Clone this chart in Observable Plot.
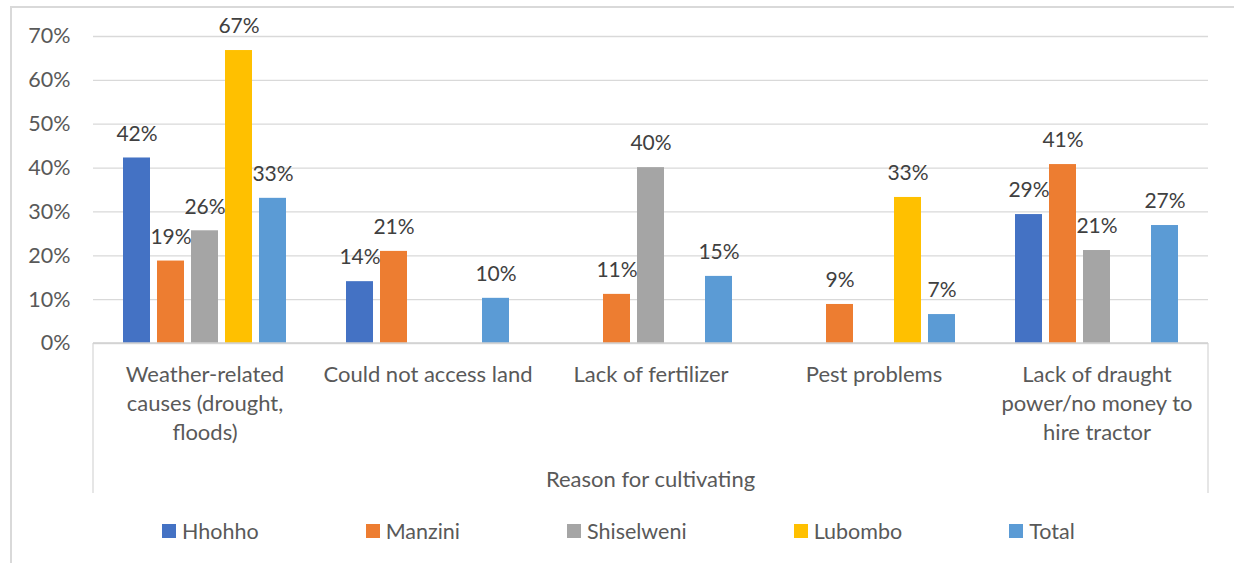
<!DOCTYPE html>
<html>
<head>
<meta charset="utf-8">
<script src="https://cdn.jsdelivr.net/npm/d3@7"></script>
<script src="https://cdn.jsdelivr.net/npm/@observablehq/plot@0.6"></script>
<style>
  html, body { margin: 0; padding: 0; background: #fff; }
  #wrap { position: relative; width: 1234px; height: 563px; overflow: hidden; font-family: Lato, sans-serif; color: #595959; }
  #frame { position: absolute; left: 10px; top: 6px; width: 1400px; height: 700px; border: 2px solid #d9d9d9; box-sizing: border-box; }
  #chart { position: absolute; left: 0; top: 0; }
  #xtitle { position: absolute; top: 465px; left: 91px; width: 1119px; text-align: center; font-size: 22px; line-height: 28px; }
  #legend { position: absolute; top: 517px; left: 162px; display: flex; gap: 107px; font-size: 21.5px; line-height: 28px; }
  #legend .item { display: flex; align-items: center; }
  #legend .sw { width: 14px; height: 14px; margin-right: 6px; }
</style>
</head>
<body>
<div id="wrap">
  <div id="frame"></div>
  <div id="chart"></div>
  <div id="xtitle">Reason for cultivating</div>
  <div id="legend"></div>
</div>
<script>
const categories = [
  "Weather-related causes (drought, floods)",
  "Could not access land",
  "Lack of fertilizer",
  "Pest problems",
  "Lack of draught power/no money to hire tractor"
];
const categoryLabels = [
  "Weather-related\ncauses (drought,\nfloods)",
  "Could not access land",
  "Lack of fertilizer",
  "Pest problems",
  "Lack of draught\npower/no money to\nhire tractor"
];
const series = ["Hhohho", "Manzini", "Shiselweni", "Lubombo", "Total"];
const colors = ["#4472C4", "#ED7D31", "#A5A5A5", "#FFC000", "#5B9BD5"];

// percent values per series, in category order (null = no bar)
const hhohho     = [42.3, 14.1, null, null, 29.4];
const manzini    = [18.8, 21.0, 11.2,  8.9, 40.8];
const shiselweni = [25.7, null, 40.1, null, 21.2];
const lubombo    = [66.8, null, null, 33.3, null];
const total      = [33.1, 10.3, 15.3,  6.6, 26.9];

const yTicks = [0, 10, 20, 30, 40, 50, 60, 70];

const seriesValues = [hhohho, manzini, shiselweni, lubombo, total];
const rows = [];
series.forEach((s, i) => seriesValues[i].forEach((v, j) => {
  if (v != null) rows.push({cat: categories[j], series: s, value: v});
}));

const plot = Plot.plot({
  width: 1234,
  height: 505,
  marginLeft: 91,
  marginRight: 24,
  marginTop: 36,
  marginBottom: 162,
  style: {fontFamily: "Lato, sans-serif", fontSize: "21.5px", color: "#595959", background: "transparent", overflow: "visible"},
  fx: {domain: categories, padding: 0, axis: null},
  x: {domain: series, paddingInner: 0.22, paddingOuter: 0.87, axis: null},
  y: {domain: [0, 70], ticks: yTicks, tickFormat: d => d + "%", label: null, tickSize: 0, tickPadding: 23},
  color: {domain: series, range: colors},
  marks: [
    Plot.ruleY(yTicks, {stroke: "#d9d9d9", strokeWidth: 1.3}),
    Plot.barY(rows, {fx: "cat", x: "series", y: "value", fill: "series"}),
    Plot.text(rows, {fx: "cat", x: "series", y: "value", text: d => Math.round(d.value) + "%", dy: -24, fill: "#404040", fontSize: 21}),
    Plot.text(categories, {fx: d => d, text: (d, i) => categoryLabels[i], frameAnchor: "bottom", lineAnchor: "top", dy: 18, lineHeight: 1.32, fill: "#595959", fontSize: 22})
  ]
});
document.getElementById("chart").appendChild(plot);

// category axis: baseline and outer edges, drawn from the library's scales
const fx = plot.scale("fx");
const y = plot.scale("y");
const svg = d3.select(plot);
const y0 = y.apply(0);
const left = fx.apply(categories[0]);
const right = fx.apply(categories[categories.length - 1]) + fx.bandwidth;
svg.append("g").selectAll("line").data([left, right]).join("line")
  .attr("x1", d => d).attr("x2", d => d)
  .attr("y1", y0).attr("y2", y0 + 150)
  .attr("stroke", "#d9d9d9").attr("stroke-width", 1.3);
svg.append("line")
  .attr("x1", left).attr("x2", right)
  .attr("y1", y0).attr("y2", y0)
  .attr("stroke", "#d0d0d0").attr("stroke-width", 1.3);

// legend
const legend = d3.select("#legend");
series.forEach((s, i) => {
  const it = legend.append("div").attr("class", "item");
  it.append("div").attr("class", "sw").style("background", colors[i]);
  it.append("span").text(s);
});
</script>
</body>
</html>
